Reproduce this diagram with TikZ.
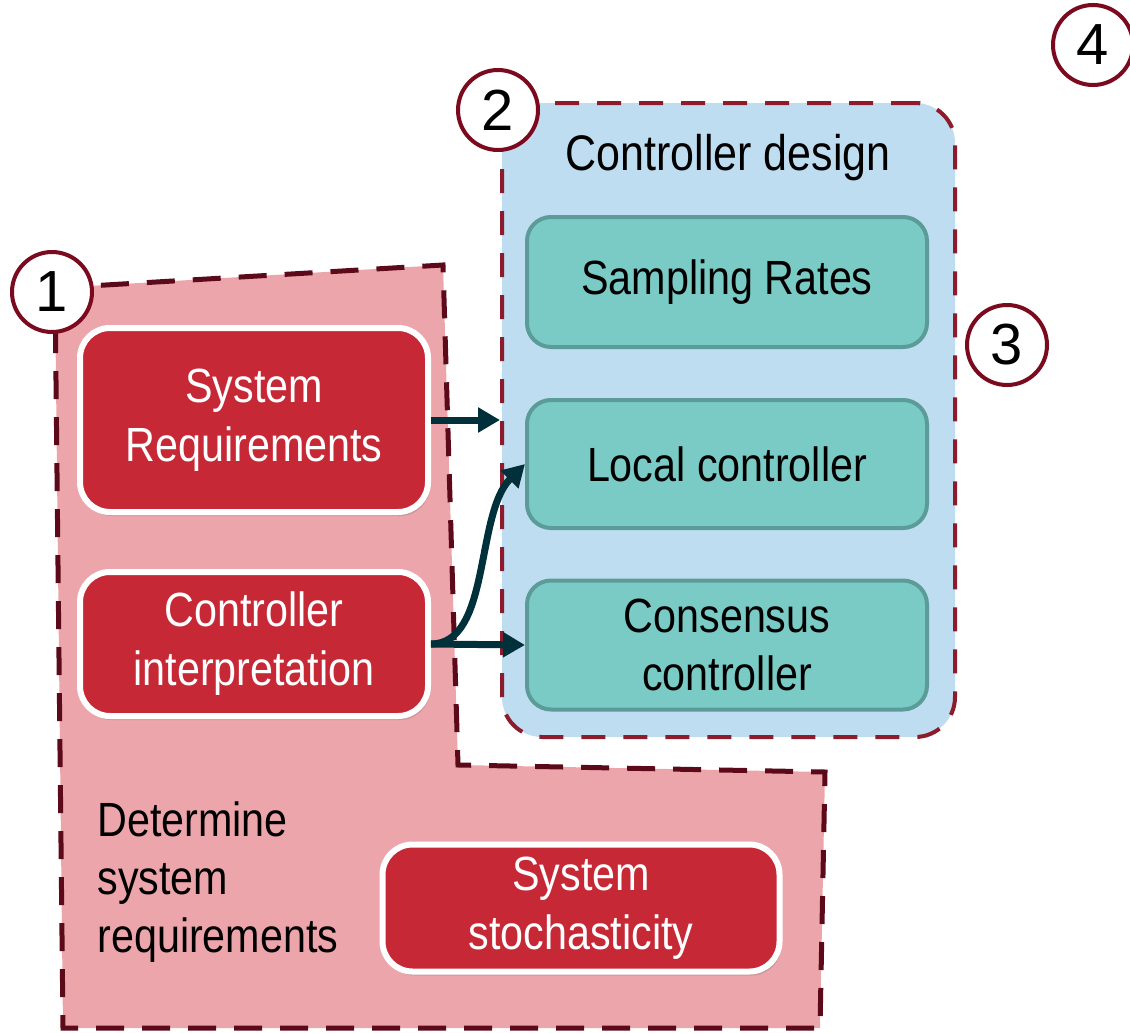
\documentclass[tikz,border=0pt]{standalone}
\usepackage{fontspec}
\setmainfont{Liberation Sans}
\newfontfamily\condfont[FakeStretch=0.86]{Liberation Sans}
\usetikzlibrary{arrows.meta,shadows}

\definecolor{boxred}{HTML}{C62835}
\definecolor{regionpink}{HTML}{ECA5AA}
\definecolor{regionline}{HTML}{5C0A1A}
\definecolor{designblue}{HTML}{BEDDF0}
\definecolor{designline}{HTML}{8E1B2B}
\definecolor{tealfill}{HTML}{7ACAC5}
\definecolor{tealline}{HTML}{5B9C98}
\definecolor{arrowdark}{HTML}{00303A}
\definecolor{circred}{HTML}{7B0A1E}

\tikzset{
  redbox/.style={draw=white, line width=3pt, fill=boxred, rounded corners=15pt,
    text=white, align=center, inner sep=0pt,
    font=\condfont\fontsize{24}{29.5}\selectfont,
    drop shadow={shadow xshift=1pt, shadow yshift=-2pt, opacity=0.35}},
  tealbox/.style={draw=tealline, line width=2pt, fill=tealfill, rounded corners=12pt,
    text=black, align=center, inner sep=0pt, minimum width=200pt,
    font=\condfont\fontsize{24}{29}\selectfont},
  designbox/.style={draw=designline, line width=2pt, fill=designblue,
    rounded corners=20pt, dash pattern=on 12pt off 9pt},
  regionbox/.style={draw=regionline, line width=2.5pt, fill=regionpink,
    dash pattern=on 14pt off 9pt},
  headtext/.style={font=\condfont\fontsize{24}{29}\selectfont, text=black, inner sep=0pt},
  numcirc/.style={circle, draw=circred, line width=2pt, fill=white,
    minimum size=40pt, inner sep=0pt, font=\fontsize{29}{29}\selectfont},
  flow/.style={draw=arrowdark, line width=3.5pt,
    -{Triangle[length=11pt,width=12pt]}}
}

\begin{document}
\begin{tikzpicture}[x=0.5pt,y=-0.5pt]
  \useasboundingbox (0,0) rectangle (1130,1033);

  % region 1
  \draw[regionbox] (55,288) -- (443,265) -- (458,765) -- (825,772)
    -- (820,1028) -- (63,1028) -- cycle;
  \node[headtext, anchor=west, align=left] (regiontitle) at (97,882)
    {Determine\\system\\requirements};

  % region 2
  \node[designbox, minimum width=226.5pt, minimum height=317pt] (design) at (728.5,420) {};
  \node[headtext, font=\condfont\fontsize{25}{29}\selectfont] (designtitle) at (728,158) {Controller design};

  \node[tealbox, minimum height=65pt] (sampling) at (727,282) {Sampling Rates};
  \node[tealbox, minimum height=64pt] (local) at (727,464) {Local controller};
  \node[tealbox, minimum height=64.5pt] (consensus) at (727,645) {Consensus\\controller};

  \node[redbox, minimum width=174pt, minimum height=92pt] (sysreq) at (254,420) {System\\Requirements};
  \node[redbox, minimum width=174pt, minimum height=72pt] (ctrlint) at (254,644) {Controller\\interpretation};
  \node[redbox, minimum width=198.5pt, minimum height=63.5pt] (stoch) at (581,908) {System\\stochasticity};

  \draw[flow] (sysreq.east) -- (design.west);
  \draw[flow] (ctrlint.east) -- (consensus.west);
  \draw[flow] (ctrlint.east) .. controls +(60,0) and +(-50,50) .. (local.west);

  \node[numcirc] (num1) at (52,292) {1};
  \node[numcirc] (num2) at (498,110) {2};
  \node[numcirc] (num3) at (1007,345) {3};
  \node[numcirc] (num4) at (1093,45) {4};
\end{tikzpicture}
\end{document}
